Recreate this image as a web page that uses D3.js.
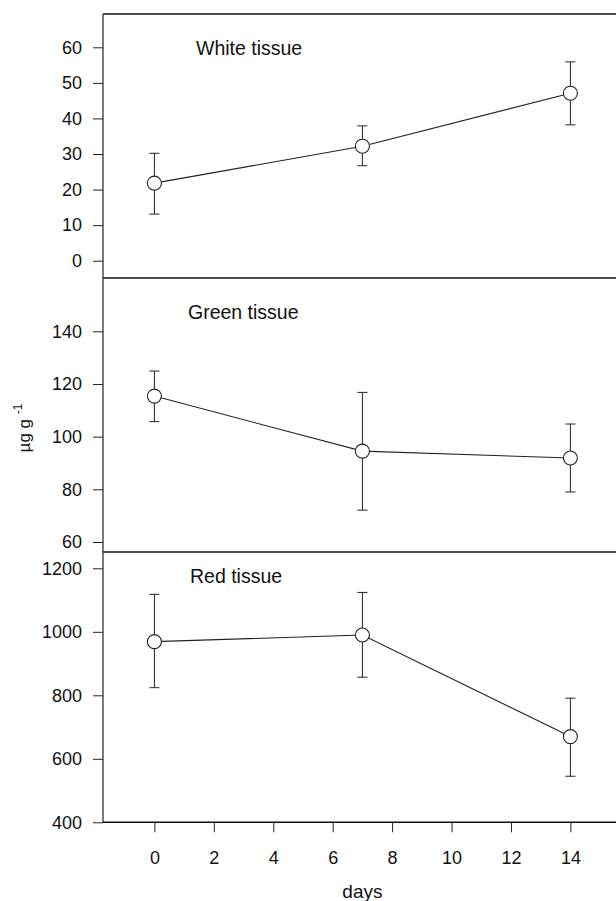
<!DOCTYPE html>
<html lang="en">
<head>
  <meta charset="UTF-8">
  <title>Tissue content over days</title>
  <script src="https://d3js.org/d3.v7.min.js"></script>
  <style>
    body {
      margin: 0;
      padding: 0;
      background: #ffffff;
    }
    svg {
      display: block;
      font-family: 'Liberation Sans', Arial, sans-serif;
    }
  </style>
</head>
<body>
<svg id="chart" width="616" height="901"></svg>
<script>
  // Données (moyenne, borne haute et basse des barres d'erreur)
  const days = [0, 7, 14];
  const xTicks = [0, 2, 4, 6, 8, 10, 12, 14];

  const whiteMean = [21.8, 32.2, 47.1];
  const whiteHigh = [30.2, 37.9, 55.9];
  const whiteLow  = [13.1, 26.7, 38.2];
  const whiteTicks = [0, 10, 20, 30, 40, 50, 60];

  const greenMean = [115.4, 94.5, 91.9];
  const greenHigh = [124.9, 116.8, 104.8];
  const greenLow  = [105.7, 72.1, 79.0];
  const greenTicks = [60, 80, 100, 120, 140];

  const redMean = [969, 990, 670];
  const redHigh = [1118, 1124, 791];
  const redLow  = [824, 857, 545];
  const redTicks = [400, 600, 800, 1000, 1200];

  const svg = d3.select("#chart");
  const left = 103, right = 616;

  const x = d3.scaleLinear().domain([0, 14]).range([154.4, 570.4]);

  // un panneau = une échelle y + ses bornes en pixels
  const panels = [
    { title: "White tissue", mean: whiteMean, high: whiteHigh, low: whiteLow, ticks: whiteTicks,
      y: d3.scaleLinear().domain([0, 60]).range([260.7, 47.3]), top: 14, bottom: 278, titleX: 196, titleY: 54.5 },
    { title: "Green tissue", mean: greenMean, high: greenHigh, low: greenLow, ticks: greenTicks,
      y: d3.scaleLinear().domain([60, 140]).range([542, 331.3]), top: 278, bottom: 552, titleX: 188, titleY: 318.5 },
    { title: "Red tissue", mean: redMean, high: redHigh, low: redLow, ticks: redTicks,
      y: d3.scaleLinear().domain([400, 1200]).range([822.3, 568.3]), top: 552, bottom: 822.3, titleX: 190, titleY: 582.5 }
  ];

  panels.forEach(p => {
    const g = svg.append("g");

    // axe gauche
    const axis = d3.axisLeft(p.y).tickValues(p.ticks).tickSize(10).tickPadding(11).tickFormat(d3.format("d"));
    const ax = g.append("g")
      .attr("transform", `translate(${left},0)`)
      .call(axis);
    ax.select(".domain").remove();
    ax.selectAll("line").attr("stroke", "#222");
    ax.selectAll("text")
      .attr("fill", "#111")
      .style("font-size", "18px");

    // cadre du panneau (haut + gauche)
    g.append("line")
      .attr("x1", left).attr("x2", right)
      .attr("y1", p.top).attr("y2", p.top)
      .attr("stroke", "#111").attr("stroke-width", 1.6);
    g.append("line")
      .attr("x1", left).attr("x2", left)
      .attr("y1", p.top).attr("y2", p.bottom)
      .attr("stroke", "#222").attr("stroke-width", 1.2);

    g.append("text")
      .attr("x", p.titleX).attr("y", p.titleY)
      .attr("fill", "#111")
      .style("font-size", "19.5px")
      .text(p.title);

    const pts = days.map((d, i) => ({ d, m: p.mean[i], hi: p.high[i], lo: p.low[i] }));

    // barres d'erreur
    const eb = g.append("g").attr("stroke", "#222").attr("stroke-width", 1);
    eb.selectAll("line.v").data(pts).join("line")
      .attr("x1", d => x(d.d)).attr("x2", d => x(d.d))
      .attr("y1", d => p.y(d.hi)).attr("y2", d => p.y(d.lo));
    eb.selectAll("line.hi").data(pts).join("line")
      .attr("x1", d => x(d.d) - 5).attr("x2", d => x(d.d) + 5)
      .attr("y1", d => p.y(d.hi)).attr("y2", d => p.y(d.hi));
    eb.selectAll("line.lo").data(pts).join("line")
      .attr("x1", d => x(d.d) - 5).attr("x2", d => x(d.d) + 5)
      .attr("y1", d => p.y(d.lo)).attr("y2", d => p.y(d.lo));

    // ligne des moyennes
    g.append("path")
      .datum(pts)
      .attr("fill", "none")
      .attr("stroke", "#222")
      .attr("stroke-width", 1.1)
      .attr("d", d3.line().x(d => x(d.d)).y(d => p.y(d.m)));

    g.selectAll("circle").data(pts).join("circle")
      .attr("cx", d => x(d.d))
      .attr("cy", d => p.y(d.m))
      .attr("r", 7)
      .attr("fill", "#fff")
      .attr("stroke", "#222")
      .attr("stroke-width", 1.1);
  });

  // axe des x (en bas)
  const xAxis = svg.append("g")
    .attr("transform", "translate(0,822.3)")
    .call(d3.axisBottom(x).tickValues(xTicks).tickSize(10).tickPadding(19).tickFormat(d3.format("d")));
  xAxis.select(".domain").remove();
  xAxis.selectAll("line").attr("stroke", "#222");
  xAxis.selectAll("text").attr("fill", "#111").style("font-size", "18px");

  svg.append("line")
    .attr("x1", left).attr("x2", right)
    .attr("y1", 822.3).attr("y2", 822.3)
    .attr("stroke", "#111").attr("stroke-width", 1.6);

  svg.append("text")
    .attr("x", x(7)).attr("y", 898)
    .attr("text-anchor", "middle")
    .attr("fill", "#111")
    .style("font-size", "19px")
    .text("days");

  // titre de l'axe y
  const yl = svg.append("text")
    .attr("transform", "translate(30,428) rotate(-90)")
    .attr("text-anchor", "middle")
    .attr("fill", "#111")
    .style("font-size", "17px");
  yl.append("tspan").text("µg g ");
  yl.append("tspan").attr("dy", -8).style("font-size", "12px").text("-1");
</script>
</body>
</html>
